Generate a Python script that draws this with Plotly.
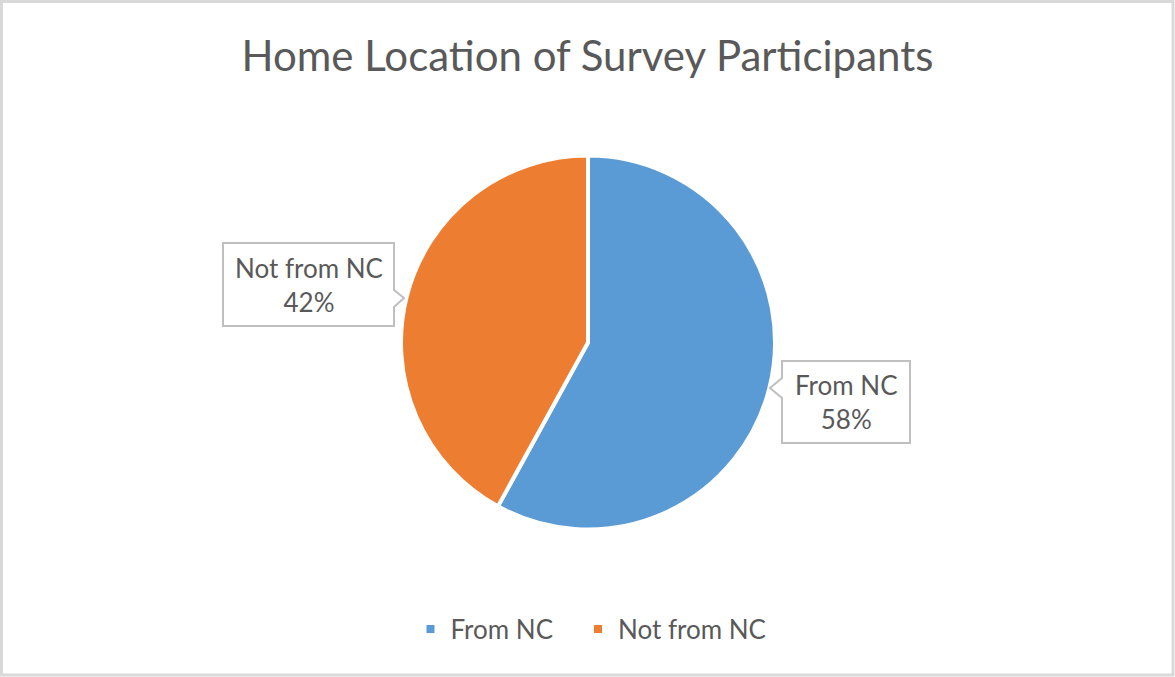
import plotly.graph_objects as go

W, H = 1175, 677

# Data
categories = ["From NC", "Not from NC"]
values = [58, 42]
colors = ["#5B9BD5", "#ED7D31"]
title_text = "Home Location of Survey Participants"

TEXT = "#595959"
FONT = "Lato"

def px(x):
    return x / W

def py(y):
    return 1 - y / H

# legend spacing: pad the non-final legend labels with no-break spaces
legend_labels = [c + ("\u00a0" * 3 if i < len(categories) - 1 else "") for i, c in enumerate(categories)]

fig = go.Figure()
fig.add_trace(go.Pie(
    labels=legend_labels,
    values=values,
    marker=dict(colors=colors, line=dict(color="white", width=4)),
    sort=False,
    direction="clockwise",
    rotation=0,
    textinfo="none",
    hoverinfo="label+percent",
    domain=dict(x=[px(401), px(775)], y=[py(530), py(155)]),
))

total = sum(values)
callouts = [
    dict(box=(782, 361, 910, 443), side="left", tip=(770, 388), base=(378, 398)),
    dict(box=(223, 243, 394, 326), side="right", tip=(404, 298), base=(290, 307)),
]
shapes = []
annotations = []
for i, c in enumerate(callouts):
    l, t, r, b = c["box"]
    tx, ty = c["tip"]
    b0, b1 = c["base"]
    if c["side"] == "left":
        pts = [(l, t), (r, t), (r, b), (l, b), (l, b1), (tx, ty), (l, b0)]
    else:
        pts = [(l, t), (r, t), (r, b0), (tx, ty), (r, b1), (r, b), (l, b)]
    path = "M " + " L ".join(f"{px(x):.5f},{py(y):.5f}" for x, y in pts) + " Z"
    shapes.append(dict(type="path", xref="paper", yref="paper", path=path,
                       line=dict(color="#BFBFBF", width=2), fillcolor="white", layer="above"))
    pct = round(values[i] / total * 100)
    annotations.append(dict(
        x=px((l + r) / 2), y=py((t + b) / 2), xref="paper", yref="paper",
        text=f"{categories[i]}<br>{pct}%", showarrow=False,
        font=dict(family=FONT, size=26, color=TEXT), align="center",
        xanchor="center", yanchor="middle",
    ))

# outer border
shapes.append(dict(type="rect", xref="paper", yref="paper", x0=px(1.5), y0=py(675), x1=px(1173), y1=py(1.5),
                   line=dict(color="#D9D9D9", width=3), layer="above"))

fig.update_layout(
    width=W, height=H,
    margin=dict(l=0, r=0, t=0, b=0),
    paper_bgcolor="white",
    plot_bgcolor="white",
    title=dict(text=title_text, x=0.5, xanchor="center", y=py(56), yanchor="middle",
               font=dict(family=FONT, size=42, color=TEXT)),
    showlegend=True,
    legend=dict(orientation="h", x=px(591), xanchor="center", y=py(629), yanchor="middle",
                font=dict(family=FONT, size=26, color=TEXT), itemwidth=30,
                traceorder="normal"),
    shapes=shapes,
    annotations=annotations,
)

fig.write_html("out.html", config={"displayModeBar": False},
               post_script="document.body.style.margin='0px';document.body.style.overflow='hidden';")
